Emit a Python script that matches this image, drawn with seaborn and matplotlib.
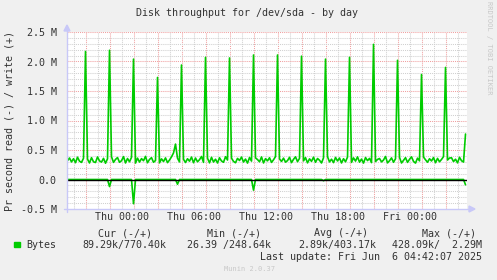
import numpy as np
import pandas as pd
import matplotlib
matplotlib.use("Agg")
import matplotlib.pyplot as plt
import seaborn as sns
from matplotlib.patches import Rectangle, Polygon
from matplotlib.lines import Line2D

# ---------------- data ----------------
title = "Disk throughput for /dev/sda - by day"
ylabel = "Pr second read (-) / write (+)"
start_hour = -4.5          # first sample, hours relative to Thu 00:00
step_hours = 1.0 / 6.0     # 10-minute samples

write_base_k = [
    320, 365, 298, 352, 285, 378, 310, 290, 360, 305, 345, 280,
    370, 300, 288, 382, 315, 295, 358, 276, 350, 305, 385, 290,
    340, 372, 292, 318, 388, 280, 356, 300, 375, 312, 278, 362,
    296, 354, 318, 392, 284, 340, 370, 292, 322, 380, 282, 350,
    305, 366, 286, 330, 384, 312, 278, 360, 298, 374, 342, 288,
    352, 310, 380, 284, 364, 300, 336, 390, 290, 318, 360, 282,
    376, 296, 344, 280, 368, 314, 292, 386, 330, 286, 362, 306,
    284, 358, 322, 380, 296, 346, 278, 372, 312, 294, 366, 338,
    300, 382, 280, 354, 316, 368, 290, 334, 388, 276, 348, 306,
    362, 294, 320, 376, 286, 342, 384, 302, 358, 288, 316, 370,
    282, 350, 308, 378, 292, 356, 326, 280, 368, 310, 386, 298,
    344, 286, 374, 314, 364, 280, 352, 300, 380, 328, 290, 366,
    312, 384, 294, 346, 278, 372, 320, 358, 286, 376, 304, 340,
    356, 298, 330, 390, 282, 318, 366, 292, 352, 306, 374, 280,
    326, 370, 290, 342, 384, 306, 278, 362, 316, 296, 380, 334,
    292, 352, 314, 372, 284, 358, 300, 340, 388, 288, 330, 364,
    368, 304, 344, 282, 376, 318, 296, 360,
]
spike_hours = [-3, -1, 1, 3, 5, 7, 9, 11, 13, 15, 17, 19, 21, 23, 25, 27]
spike_M = [2.17, 2.19, 2.04, 1.73, 1.94, 2.07, 2.06, 2.11,
           2.11, 2.09, 2.04, 2.07, 2.29, 2.02, 1.78, 1.90]
extra_write_hours = [4.3333, 4.5, 28.6667]
extra_write_M = [0.45, 0.60, 0.7704]
read_dip_hours = [-1, 1, 4.6667, 11, 16.8333, 28.6667]
read_dip_M = [0.12, 0.41, 0.08, 0.18, 0.02, 0.0893]

xtick_hours = [0, 6, 12, 18, 24]
xtick_labels = ["Thu 00:00", "Thu 06:00", "Thu 12:00", "Thu 18:00", "Fri 00:00"]
ytick_values = [-0.5e6, 0, 0.5e6, 1.0e6, 1.5e6, 2.0e6, 2.5e6]
ytick_labels = ["-0.5 M", "0.0", "0.5 M", "1.0 M", "1.5 M", "2.0 M", "2.5 M"]

legend_name = "Bytes"
legend_headers = ["Cur (-/+)", "Min (-/+)", "Avg (-/+)", "Max (-/+)"]
legend_values = ["89.29k/770.40k", "26.39 /248.64k", "2.89k/403.17k", "428.09k/  2.29M"]
last_update = "Last update: Fri Jun  6 04:42:07 2025"
munin_version = "Munin 2.0.37"
rrd_credit = "RRDTOOL / TOBI OETIKER"

# ---------------- build series ----------------
n = len(write_base_k)
hours = [start_hour + i * step_hours for i in range(n)]
write = [v * 1000.0 for v in write_base_k]
for h, v in zip(spike_hours, spike_M):
    write[int(round((h - start_hour) / step_hours))] = v * 1e6
for h, v in zip(extra_write_hours, extra_write_M):
    write[int(round((h - start_hour) / step_hours))] = v * 1e6
read = [0.0] * n
for h, v in zip(read_dip_hours, read_dip_M):
    read[int(round((h - start_hour) / step_hours))] = -v * 1e6
df = pd.DataFrame({"hour": hours, "write": write, "read": read})

# ---------------- figure ----------------
sns.set_style("white")
plt.rcParams["font.family"] = ["DejaVu Sans Mono"]
W, H = 497, 280
fig = plt.figure(figsize=(W / 100, H / 100), dpi=100)
fig.patch.set_facecolor("#F0F0F0")

def fx(x):
    return x / W

def fy(y):
    return 1 - y / H

L, R, T, B = 67, 467, 32, 209
ax = fig.add_axes([fx(L), fy(B), (R - L) / W, (B - T) / H])
ax.set_facecolor("white")
ax.set_xlim(-4.542, 28.79)
ax.set_ylim(-0.5e6, 2.5e6)
for s in ax.spines.values():
    s.set_visible(False)

TXT = "#333333"
FS = 7.2
MINOR = "#D0D0D0"
MAJOR = "#F0A0A0"
dash = (0, (1, 1))

# grid
for h in range(-4, 29, 2):
    ax.axvline(h, color=MINOR, lw=0.75, ls=dash, zorder=1)
for h in range(-3, 28, 2):
    ax.axvline(h, color=MAJOR, lw=0.75, ls=dash, zorder=1)
for k in range(-4, 25):
    if k % 5 == 0:
        continue
    ax.axhline(k * 1e5, color=MINOR, lw=0.75, ls=dash, zorder=1)
for k in range(0, 6):
    ax.axhline(k * 5e5, color=MAJOR, lw=0.75, ls=dash, zorder=1)

# series
sns.lineplot(data=df, x="hour", y="write", color="#00CC00", lw=1.2, ax=ax, zorder=3)
sns.lineplot(data=df, x="hour", y="read", color="#00CC00", lw=1.2, ax=ax, zorder=3)
ax.axhline(0, color="black", lw=1.0, zorder=4)

ax.set_xlabel("")
ax.set_ylabel("")
ax.set_xticks(xtick_hours)
ax.set_xticklabels(xtick_labels, fontsize=FS, color=TXT)
ax.set_yticks(ytick_values)
ax.set_yticklabels(ytick_labels, fontsize=FS, color=TXT)
ax.tick_params(axis="both", length=0)
ax.tick_params(axis="y", pad=7.5)
ax.tick_params(axis="x", pad=2.5)

# axis lines with arrows (light blue)
AX = "#C8C8F8"
fig.add_artist(Line2D([fx(L), fx(L)], [fy(212), fy(30)], color=AX, lw=1.0))
fig.add_artist(Line2D([fx(64), fx(470)], [fy(B), fy(B)], color=AX, lw=1.0))
fig.add_artist(Polygon([[fx(64), fy(31)], [fx(70), fy(31)], [fx(67), fy(25)]],
                       closed=True, color=AX, transform=fig.transFigure))
fig.add_artist(Polygon([[fx(469), fy(206)], [fx(469), fy(212)], [fx(475), fy(209)]],
                       closed=True, color=AX, transform=fig.transFigure))

# texts
fig.text(fx(247.5), fy(12.5), title, ha="center", va="center", fontsize=FS, color=TXT)
fig.text(fx(10), fy(121), ylabel, ha="center", va="center", rotation=90,
         fontsize=FS, color=TXT)
fig.text(fx(489), fy(48), rrd_credit, ha="center", va="center", rotation=270,
         fontsize=5.0, color="#C8C8C8")

fig.add_artist(Rectangle((fx(14), fy(247)), 5.5 / W, 5.5 / H, color="#00CC00",
                         transform=fig.transFigure))
fig.text(fx(26), fy(245), legend_name, ha="left", va="center", fontsize=FS, color=TXT)
header_x = [97.7, 206.7, 314, 422]
value_x = [82.3, 187.3, 298.3, 391.7]
for x, s in zip(header_x, legend_headers):
    fig.text(fx(x), fy(233), s, ha="left", va="center", fontsize=FS, color=TXT)
for x, s in zip(value_x, legend_values):
    fig.text(fx(x), fy(245), s, ha="left", va="center", fontsize=FS, color=TXT)
fig.text(fx(260), fy(256.5), last_update, ha="left", va="center", fontsize=FS, color=TXT)
fig.text(fx(223.5), fy(269), munin_version, ha="left", va="center", fontsize=5.0,
         color="#C8C8C8")

fig.savefig("out.png", dpi=100, facecolor=fig.get_facecolor())
